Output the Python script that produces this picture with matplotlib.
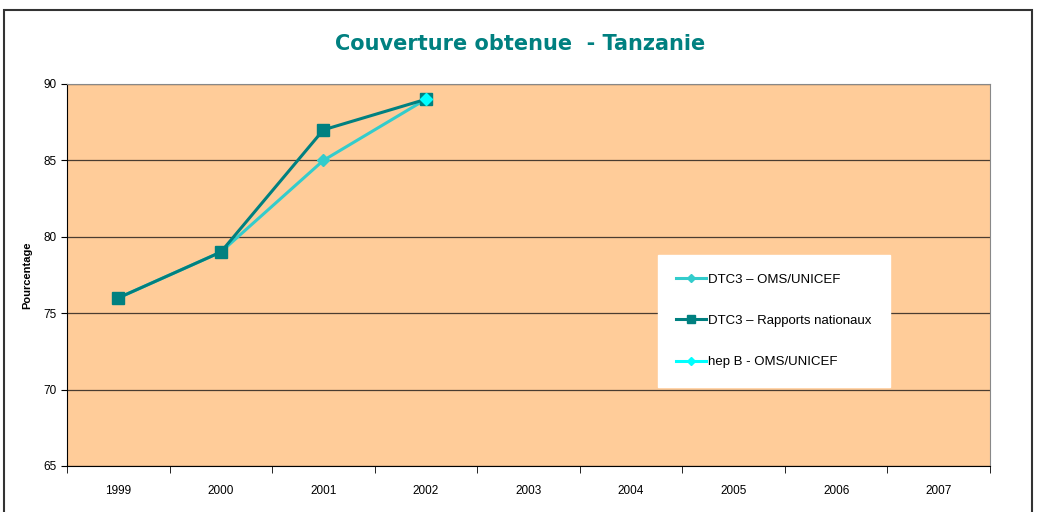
import matplotlib.pyplot as plt
from matplotlib.patches import Rectangle

years = ['1999', '2000', '2001', '2002', '2003', '2004', '2005', '2006', '2007']
dtc3_oms = [76, 79, 85, 89]
dtc3_rapports = [76, 79, 87, 89]
hepb_oms = [None, None, None, 89]

plt.rcParams['font.family'] = ['Liberation Sans', 'DejaVu Sans']

fig = plt.figure(figsize=(10.4, 5.12), dpi=100)
ax = fig.add_axes([67 / 1040, 46 / 512, 923 / 1040, 382 / 512])
ax.set_facecolor('#FFCC99')

x = list(range(len(years)))
ax.plot(x[:len(dtc3_oms)], dtc3_oms, color='#33CCCC', lw=2.2, marker='D', ms=6,
        label='DTC3 – OMS/UNICEF', zorder=3)
ax.plot(x[:len(dtc3_rapports)], dtc3_rapports, color='#008080', lw=2.2, marker='s', ms=9,
        label='DTC3 – Rapports nationaux', zorder=4)
hx = [xi for xi, v in zip(x, hepb_oms) if v is not None]
hv = [v for v in hepb_oms if v is not None]
ax.plot(hx, hv, color='#00FFFF', lw=2.2, marker='D', ms=6, label='hep B - OMS/UNICEF', zorder=5)

ax.set_xlim(-0.5, len(years) - 0.5)
ax.set_ylim(65, 90)
ax.set_yticks(range(65, 91, 5))
ax.yaxis.grid(True, color='#4a3c30', lw=0.9)
ax.set_axisbelow(True)
ax.set_xticks(x)
ax.set_xticklabels(years, fontsize=8.5)
ax.set_xticks([i - 0.5 for i in range(len(years) + 1)], minor=True)
ax.tick_params(axis='x', which='major', length=0, pad=14)
ax.tick_params(axis='x', which='minor', length=5, direction='out')
ax.tick_params(axis='y', labelsize=8.5, length=4)
for s in ['top', 'right']:
    ax.spines[s].set_color('#888888')
for s in ['left', 'bottom']:
    ax.spines[s].set_color('black')
ax.set_ylabel('Pourcentage', fontsize=8, fontweight='bold', labelpad=8)

leg = ax.legend(loc='upper left', bbox_to_anchor=(591 / 923, (466 - 255) / 382), fontsize=9.5,
                frameon=True, fancybox=False, labelspacing=2.2, handlelength=2.2,
                borderpad=1.4, handletextpad=0.2, borderaxespad=0, markerscale=0.7)
leg.get_frame().set_edgecolor('white')
leg.get_frame().set_facecolor('white')
leg.get_frame().set_alpha(1)

fig.text(0.5, (512 - 44) / 512, 'Couverture obtenue  - Tanzanie', ha='center', va='center',
         fontsize=15, fontweight='bold', color='#008080', family='DejaVu Sans')

fig.patches.append(Rectangle((4 / 1040, -0.05), 1028 / 1040, (512 - 10) / 512 + 0.05,
                             transform=fig.transFigure, fill=False, edgecolor='#333333', lw=1.5))

fig.savefig('out.png', dpi=100)
